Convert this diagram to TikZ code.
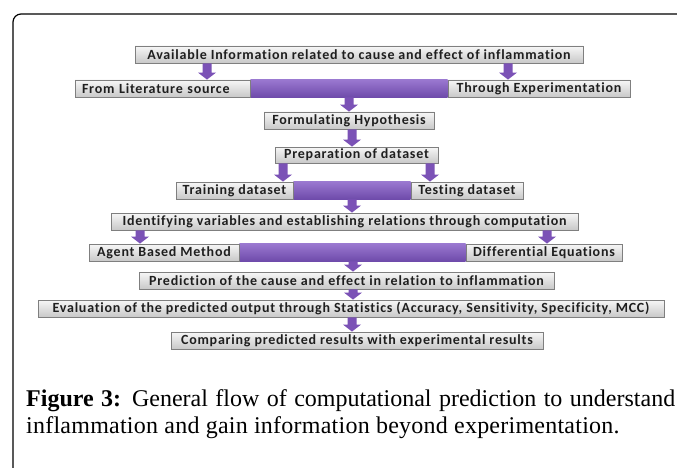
\documentclass[tikz,border=0pt]{standalone}
\usepackage{fontspec}
\setmainfont{Liberation Serif}
\newfontfamily\boxfont{Carlito}[LetterSpace=5.5,Ligatures=NoCommon]
\usetikzlibrary{shadows,calc,backgrounds}
\definecolor{bxborder}{HTML}{7F7F7F}
\definecolor{bxtop}{HTML}{F7F7F7}
\definecolor{bxbot}{HTML}{C8C8C8}
\definecolor{arrowc}{HTML}{7B52B6}
\definecolor{bartop}{HTML}{9A78D0}
\definecolor{barbot}{HTML}{6E4AAA}
\newcommand\bx[7][]{\node[gbox,#1,minimum width={(#5-#3)*1pt},minimum height={(#6-#4)*1pt}] (#2) at ({(#3+#5)/2},{(#4+#6)/2}) {#7};}
\newcommand\barr[3]{\fill[arrowc] let \p1=(#2.south), \p2=(#3.north) in
  ({(#1)*1pt-4.5pt},\y1) -- ({(#1)*1pt+4.5pt},\y1) -- ({(#1)*1pt+4.5pt},\y2+7pt) -- ({(#1)*1pt+9pt},\y2+7pt) -- ({(#1)*1pt},\y2) -- ({(#1)*1pt-9pt},\y2+7pt) -- ({(#1)*1pt-4.5pt},\y2+7pt) -- cycle;}
\begin{document}
\begin{tikzpicture}[x=1pt,y=-1pt,
  gbox/.style={draw=bxborder, line width=0.8pt, top color=bxtop, bottom color=bxbot, inner sep=0pt,
    drop shadow={shadow xshift=0.8pt, shadow yshift=-0.8pt, opacity=0.35},
    font=\boxfont\bfseries\fontsize{14}{15}\selectfont, text=black!88},
  barshade/.style={top color=bartop, bottom color=barbot},
  captext/.style={anchor=base west, inner sep=0pt, font=\fontsize{24}{28}\selectfont}]
\useasboundingbox (0,0) rectangle (677,468);
\draw[line width=1.2pt, rounded corners=8pt] (13,468) -- (13,14) -- (677,14);
\bx{avail}{135}{46}{583}{63}{Available Information related to cause and effect of inflammation}
\bx[text width=161pt, align=left]{lit}{75}{80}{250}{97}{From Literature source}
\bx{exp}{448}{80}{630}{97}{Through Experimentation}
\bx{form}{264}{112}{434}{129}{Formulating Hypothesis}
\bx{prep}{275}{147}{438}{163}{Preparation of dataset}
\bx{train}{176}{182}{293}{199}{Training dataset}
\bx{test}{411}{182}{523}{199}{Testing dataset}
\bx{ident}{111}{213}{578}{230}{Identifying variables and establishing relations through computation}
\bx{agent}{89}{244}{239}{261}{Agent Based Method}
\bx{diff}{466}{244}{622}{261}{Differential Equations}
\bx{pred}{139}{272}{554}{289}{Prediction of the cause and effect in relation to inflammation}
\bx{eval}{38}{300}{664}{317}{Evaluation of the predicted output through Statistics (Accuracy, Sensitivity, Specificity, MCC)}
\bx{comp}{171}{332}{543}{349}{Comparing predicted results with experimental results}
\begin{scope}[on background layer]
\path[barshade] (lit.north east) rectangle (exp.south west);
\path[barshade] (train.north east) rectangle (test.south west);
\path[barshade] (agent.north east) rectangle (diff.south west);
\end{scope}
\barr{207}{avail}{lit}
\barr{508}{avail}{exp}
\barr{349}{lit}{form}
\barr{352}{form}{prep}
\barr{283}{prep}{train}
\barr{430}{prep}{test}
\barr{352}{train}{ident}
\barr{140}{ident}{agent}
\barr{547}{ident}{diff}
\barr{353}{agent}{pred}
\barr{353}{pred}{eval}
\barr{352}{eval}{comp}
\node[captext] (cap1) at (26,406) {\makebox[649pt][s]{\textbf{Figure 3:} General flow of computational prediction to understand}};
\node[captext] (cap2) at (26,433) {\addfontfeature{LetterSpace=1}inflammation and gain information beyond experimentation.};
\end{tikzpicture}
\end{document}
